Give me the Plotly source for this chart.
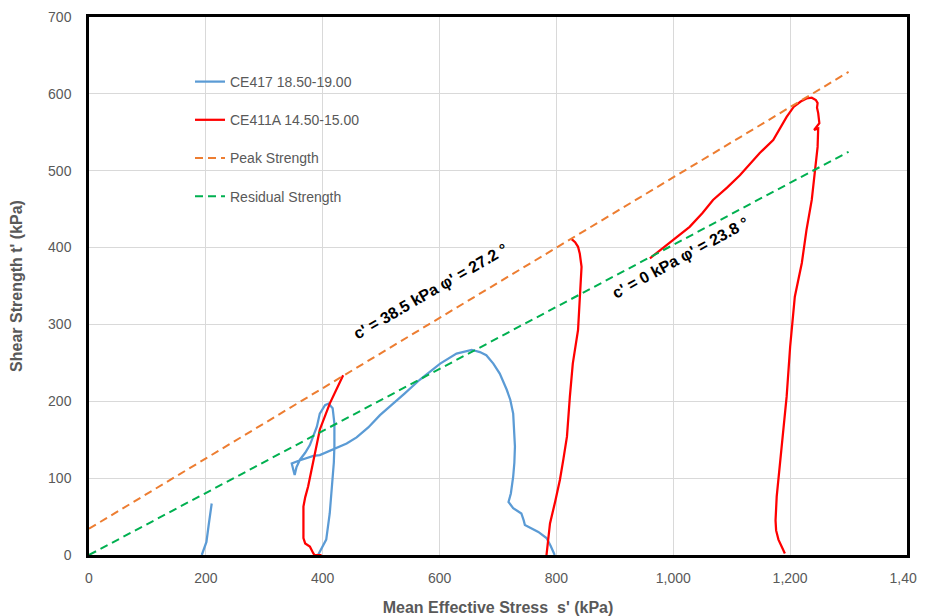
import plotly.graph_objects as go

# ---------------- data ----------------
# CE417 18.50-19.00 (blue) : two pieces separated by None
ce417_s = [193, 201, 205, 210, None,
           392, 401, 406, 412, 417, 419, 420, 420, 417, 410, 404, 395, 390, 384, 378, 370, 361,
           355, 352, 350, 347, 360, 372, 384, 395, 418, 441, 458, 478, 498, 515, 540, 566, 601, 629,
           655, 669, 680, 692, 703, 715, 721, 726, 729, 728, 726, 722, 718, 726, 740, 744, 746,
           769, 783, 790, 797]
ce417_t = [0, 17, 40, 67, None,
           0, 13, 20, 54, 98, 120, 141, 171, 191, 197, 195, 184, 167, 156, 143, 133, 124,
           114, 104, 110, 119, 123, 126, 129, 130, 137, 145, 153, 166, 182, 193, 210, 228, 249, 262,
           267, 264, 260, 249, 236, 215, 202, 184, 141, 120, 102, 80, 69, 61, 54, 45, 39,
           30, 22, 12, 0]

# CE411A 14.50-15.00 (red) : three pieces separated by None
ce411_s = [398, 386, 384, 378, 370, 367, 367, 370, 375, 384, 395, 412, 425, 435, None,
           783, 786, 789, 798, 806, 812, 818, 823, 828, 837, 840, 843, 840, 837, 832, 826, None,
           960, 980, 1000, 1028, 1050, 1068, 1092, 1114, 1148, 1171, 1194, 1206, 1218, 1228,
           1237, 1244, 1247, 1246, 1248, 1250, 1241, 1248, 1247, 1243, 1237, 1228, 1220, 1208,
           1200, 1194, 1186, 1177, 1175, 1176, 1180, 1191]
ce411_t = [0, 0, 2, 11, 15, 22, 63, 75, 89, 124, 163, 197, 218, 234, None,
           0, 20, 41, 70, 98, 125, 154, 206, 249, 293, 332, 375, 392, 401, 407, 411, None,
           386, 398, 410, 427, 445, 462, 478, 494, 523, 540, 570, 583, 590, 594,
           595, 592, 588, 582, 575, 562, 553, 555, 531, 501, 462, 423, 380, 336,
           271, 206, 141, 76, 45, 32, 20, 2]

# strength envelopes (t = c' cos(phi') + s sin(phi'))
peak_s = [0, 1300]
peak_t = [34.2, 628.5]
resid_s = [0, 1300]
resid_t = [0, 524.6]

x_ticks = [0, 200, 400, 600, 800, 1000, 1200, 1400]
y_ticks = [0, 100, 200, 300, 400, 500, 600, 700]

label_peak = "c' = 38.5 kPa φ' = 27.2 °"
label_resid = "c' = 0 kPa φ' = 23.8 °"

# ---------------- figure ----------------
fig = go.Figure()

fig.add_trace(go.Scatter(x=ce417_s, y=ce417_t, mode="lines", name="CE417 18.50-19.00",
                         line=dict(color="#5B9BD5", width=2.25), legendgroup="a",
                         connectgaps=False))
fig.add_trace(go.Scatter(x=ce411_s, y=ce411_t, mode="lines", name="CE411A 14.50-15.00",
                         line=dict(color="#FF0000", width=2.25), legendgroup="b",
                         connectgaps=False))
fig.add_trace(go.Scatter(x=peak_s, y=peak_t, mode="lines", name="Peak Strength",
                         line=dict(color="#ED7D31", width=2, dash="8px,5px"), legendgroup="c"))
fig.add_trace(go.Scatter(x=resid_s, y=resid_t, mode="lines", name="Residual Strength",
                         line=dict(color="#00B050", width=2, dash="8px,5px"), legendgroup="d"))

# page body has an 8px margin: figure sized/offset so the plot lands where the reference has it
OFF = 8
W, H = 917, 608
plot_l, plot_r, plot_t, plot_b = 89, 907, 17, 555   # target screen pixels
ml = plot_l - OFF
mt = plot_t - OFF
mr = (OFF + W) - plot_r
mb = (OFF + H) - plot_b
pw, ph = plot_r - plot_l, plot_b - plot_t


def px2paper(px, py):
    return (px - plot_l) / pw, (plot_b - py) / ph


x0, y1 = px2paper(140, 63)
x1, y0 = px2paper(408, 214)
fig.add_shape(type="rect", xref="paper", yref="paper", x0=x0, x1=x1, y0=y0, y1=y1,
              fillcolor="white", line=dict(width=0), layer="below")

fig.add_annotation(x=584, y=343, text=label_peak, showarrow=False, textangle=-30,
                   font=dict(family="Liberation Sans, Arial", size=16, color="black", weight="bold"))
fig.add_annotation(x=1013, y=387, text=label_resid, showarrow=False, textangle=-28.5,
                   font=dict(family="Liberation Sans, Arial", size=16, color="black", weight="bold"))

axis_common = dict(showgrid=True, gridcolor="#D9D9D9", gridwidth=1, zeroline=False,
                   showline=True, linecolor="black", linewidth=2.5, mirror=True,
                   automargin=False, ticklabeloverflow="allow",
                   ticks="", tickfont=dict(family="Liberation Sans, Arial", size=14, color="#595959"))

fig.update_xaxes(range=[0, 1400], tickvals=x_ticks, tickformat=",", ticklabelstandoff=8,
                 title=dict(text="Mean Effective Stress  s' (kPa)", standoff=22,
                            font=dict(family="Liberation Sans Narrow, Liberation Sans, Arial",
                                      size=16, color="#595959", weight="bold")),
                 **axis_common)
fig.update_yaxes(range=[0, 700], tickvals=y_ticks, ticklabelstandoff=12,
                 title=dict(text="Shear Strength t' (kPa)", standoff=22,
                            font=dict(family="Liberation Sans Narrow, Liberation Sans, Arial",
                                      size=16, color="#595959", weight="bold")),
                 **axis_common)

lx, ly = px2paper(190, 66)
fig.update_layout(
    width=W, height=H,
    margin=dict(l=ml, r=mr, t=mt, b=mb, pad=0, autoexpand=False),
    plot_bgcolor="white", paper_bgcolor="white",
    legend=dict(x=lx, y=ly, xanchor="left", yanchor="top", bgcolor="rgba(0,0,0,0)",
                tracegroupgap=17, traceorder="grouped",
                font=dict(family="Liberation Sans, Arial", size=14, color="#595959")),
    showlegend=True,
)

fig.write_html("out.html")
